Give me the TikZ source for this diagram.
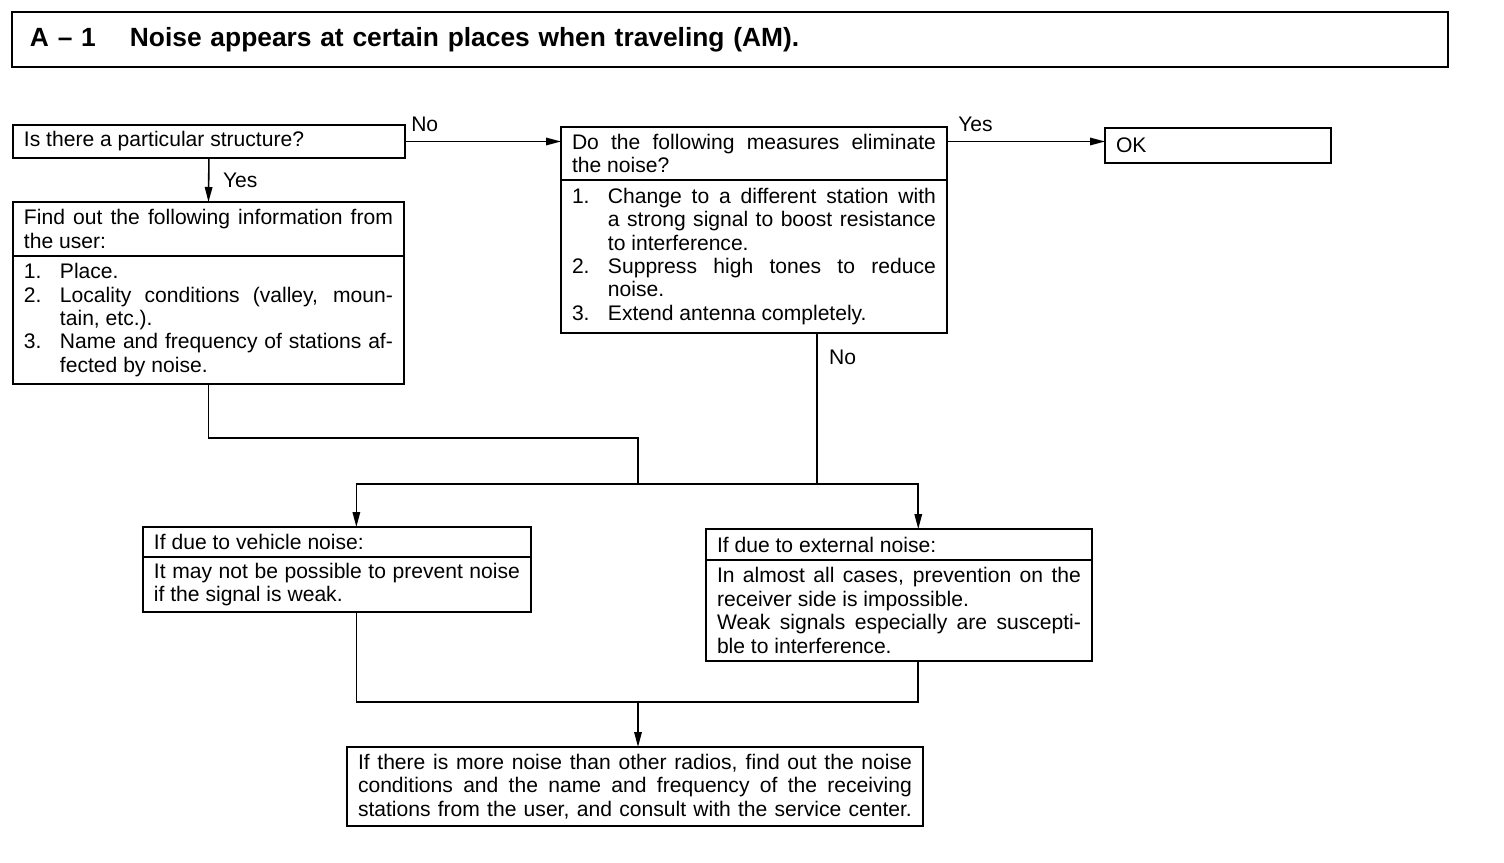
\documentclass[tikz,border=0pt]{standalone}
\usepackage{fontspec}
\setmainfont{Liberation Sans}
\usetikzlibrary{arrows.meta,calc,positioning}
\newcommand\boxfont{\fontsize{12}{13.3}\selectfont}
\newcommand\itm[2]{\noindent\hangindent=0.72cm\hangafter=1\makebox[0.72cm][l]{#1}#2\par}

\begin{document}
\begin{tikzpicture}[
                x=0.02cm, y=-0.02cm,
                box/.style={draw, line width=0.9pt, inner xsep=0.22cm, inner ysep=0pt, outer sep=0pt,
                    anchor=north west, align=justify, font=\boxfont},
                line/.style={line width=0.9pt},
                arr/.style={line, -{Triangle[length=3mm,width=1.5mm]}},
                lbl/.style={font=\boxfont, inner sep=0pt}
            ]
                \useasboundingbox (0,0) rectangle (1504,862);
                \node[draw, line width=1.4pt, anchor=north west, outer sep=0pt, inner xsep=0.36cm,
                    text width=28cm, minimum height=1.1cm, align=left,
                    font=\fontsize{15}{17}\selectfont\bfseries] (title) at (12,12)
                    {\makebox[2cm][l]{A -- 1}Noise appears at certain places when traveling (AM).};
                \node[box, text width=7.40cm, minimum height=0.66cm] (q1) at (13,125) {Is there a particular structure?};
                \node[box, text width=7.38cm, minimum height=1.08cm] (ih) at (13,202)
                    {Find out the following information from\linebreak the user:\par};
                \node[box, text width=7.38cm, minimum height=2.56cm] (ib) at (ih.south west)
                    {\itm{1.}{Place.}\itm{2.}{Locality conditions (valley, moun-\linebreak tain, etc.).}\itm{3.}{Name and frequency of stations af-\linebreak fected by noise.}};
                \node[box, text width=7.28cm, minimum height=1.06cm] (q2h) at (561,127)
                    {Do the following measures eliminate\linebreak the noise?\par};
                \node[box, text width=7.28cm, minimum height=3.06cm] (q2b) at (q2h.south west)
                    {\itm{1.}{Change to a different station with\linebreak a strong signal to boost resistance\linebreak to interference.}\itm{2.}{Suppress high tones to reduce\linebreak noise.}\itm{3.}{Extend antenna completely.}};
                \node[box, text width=4.08cm, minimum height=0.70cm, align=left] (ok) at (1105,128) {OK};
                \node[box, text width=7.32cm, minimum height=0.60cm] (vh) at (143,527) {If due to vehicle noise:};
                \node[box, text width=7.32cm, minimum height=1.10cm] (vb) at (vh.south west)
                    {It may not be possible to prevent noise\linebreak if the signal is weak.\par};
                \node[box, text width=7.28cm, minimum height=0.62cm] (eh) at (706,529) {If due to external noise:};
                \node[box, text width=7.28cm, minimum height=2.02cm] (eb) at (eh.south west)
                    {In almost all cases, prevention on the\linebreak receiver side is impossible.\par
                    Weak signals especially are suscepti-\linebreak ble to interference.\par};
                \node[box, text width=11.08cm, minimum height=1.58cm] (fin) at (347,747)
                    {\parfillskip=0pt If there is more noise than other radios, find out the noise\linebreak conditions and the name and frequency of the receiving\linebreak stations from the user, and consult with the service center.\par};
                \coordinate (split) at (638,484);
                \coordinate (merge) at (638,702);
                \coordinate (q2n) at ($(q2b.south west)!0.663!(q2b.south east)$);
                \coordinate (vin) at ($(vh.north west)!0.55!(vh.north east)$);
                \coordinate (ein) at ($(eh.north west)!0.55!(eh.north east)$);
                \coordinate (vout) at ($(vb.south west)!0.55!(vb.south east)$);
                \coordinate (eout) at ($(eb.south west)!0.55!(eb.south east)$);
                \draw[arr] (q1.east) -- (q1.east -| q2h.west);
                \draw[arr] (q1.east -| q2h.east) -- (q1.east -| ok.west);
                \draw[arr] (q1.south) -- (ih.north);
                \draw[line] (ib.south) -- ++(0,54) -| (split);
                \draw[line] (q2n) -- (q2n |- split);
                \draw[arr] (split) -| (vin);
                \draw[arr] (split) -| (ein);
                \draw[line] (vout) |- (merge);
                \draw[line] (eout) |- (merge);
                \draw[arr] (merge) -- (merge |- fin.north);
                \node[lbl, anchor=base west] (no1) at ([xshift=0.12cm,yshift=0.2cm]q1.east) {No};
                \node[lbl, anchor=west] (yes1) at ([xshift=0.28cm]$(q1.south)!0.5!(ih.north)$) {Yes};
                \node[lbl, anchor=base west] (yes2) at ([xshift=0.22cm,yshift=0.2cm]q1.east -| q2h.east) {Yes};
                \node[lbl, anchor=west] (no2) at ([xshift=0.24cm,yshift=-0.48cm]q2n) {No};
            \end{tikzpicture}
\end{document}
